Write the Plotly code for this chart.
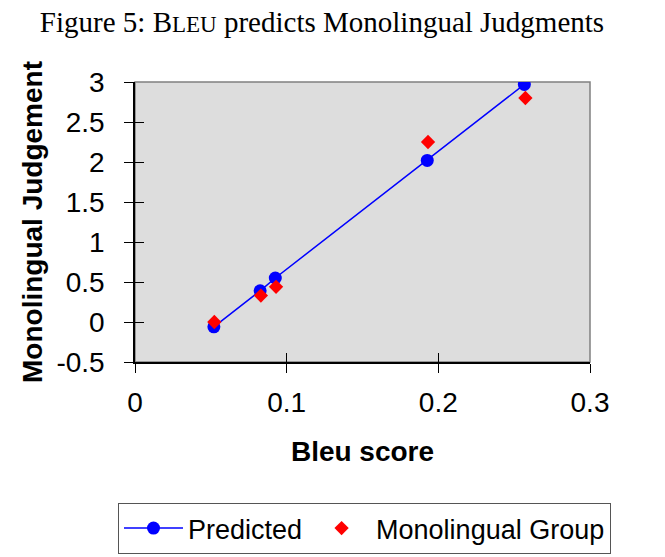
import plotly.graph_objects as go

# Data
pred_x = [0.052, 0.0825, 0.0925, 0.1927, 0.2567]
pred_y = [-0.06, 0.39, 0.55, 2.02, 2.97]
mono_x = [0.0523, 0.083, 0.093, 0.1932, 0.2574]
mono_y = [0.0, 0.33, 0.44, 2.25, 2.80]

x_ticks = [0, 0.1, 0.2, 0.3]
x_tick_labels = ["0", "0.1", "0.2", "0.3"]
y_ticks = [-0.5, 0, 0.5, 1, 1.5, 2, 2.5, 3]
y_tick_labels = ["-0.5", "0", "0.5", "1", "1.5", "2", "2.5", "3"]

SANS = "Liberation Sans, Arial, sans-serif"
SERIF = "Liberation Serif, Times New Roman, serif"

fig = go.Figure()
fig.add_trace(go.Scatter(
    x=pred_x, y=pred_y, mode="lines+markers", name="Predicted",
    line=dict(color="#0000FF", width=1.5),
    marker=dict(symbol="circle", size=13, color="#0000FF"),
    xaxis="x", yaxis="y",
))
fig.add_trace(go.Scatter(
    x=mono_x, y=mono_y, mode="markers", name="Monolingual Group",
    marker=dict(symbol="diamond", size=11, color="#FF0000"),
    xaxis="x2", yaxis="y2",
))

common = dict(showgrid=False, zeroline=False, tickcolor="black", tickwidth=1, ticklen=9)

fig.update_layout(
    width=665, height=557,
    margin=dict(l=135, r=75, t=82, b=195, autoexpand=False),
    paper_bgcolor="white", plot_bgcolor="#DDDDDD",
    font=dict(family=SANS, size=28, color="black"),
    title=dict(
        text="Figure 5: B<span style='font-size:23px'>LEU</span> predicts Monolingual Judgments",
        font=dict(family=SERIF, size=29, color="black"),
        x=322 / 665, xanchor="center", xref="container",
        y=1 - 22 / 557, yanchor="middle", yref="container",
    ),
    xaxis=dict(
        range=[0, 0.3], tickvals=x_ticks, ticktext=x_tick_labels,
        ticks="outside", showline=True, linecolor="black", linewidth=1.5,
        tickfont=dict(size=28), ticklabelstandoff=6,
        title=dict(text="<b>Bleu score</b>", font=dict(size=28), standoff=24),
        **common,
    ),
    yaxis=dict(
        range=[-0.5, 3], tickvals=y_ticks, ticktext=y_tick_labels,
        ticks="outside", showline=True, linecolor="black", linewidth=1.5,
        tickfont=dict(size=28), ticklabelstandoff=14,
        title=dict(text="<b>Monolingual Judgement</b>", font=dict(size=28), standoff=6),
        **common,
    ),
    xaxis2=dict(
        range=[0, 0.3], tickvals=x_ticks, overlaying="x", side="bottom",
        ticks="inside", showline=False, showticklabels=False, **common,
    ),
    yaxis2=dict(
        range=[-0.5, 3], tickvals=y_ticks, overlaying="y", side="left",
        ticks="inside", showline=False, showticklabels=False, **common,
    ),
    legend=dict(
        orientation="h", xref="paper", yref="paper",
        x=(118 - 135) / 455, xanchor="left", y=(362 - 503) / 280, yanchor="top",
        bordercolor="#555555", borderwidth=1, bgcolor="white",
        font=dict(size=27), itemwidth=59,
    ),
    showlegend=True,
    shapes=[dict(
        type="rect", xref="paper", yref="paper", x0=0, x1=1, y0=0, y1=1,
        line=dict(color="#808080", width=1.5), fillcolor="rgba(0,0,0,0)", layer="below",
    )],
)

fig.write_html("out.html")
